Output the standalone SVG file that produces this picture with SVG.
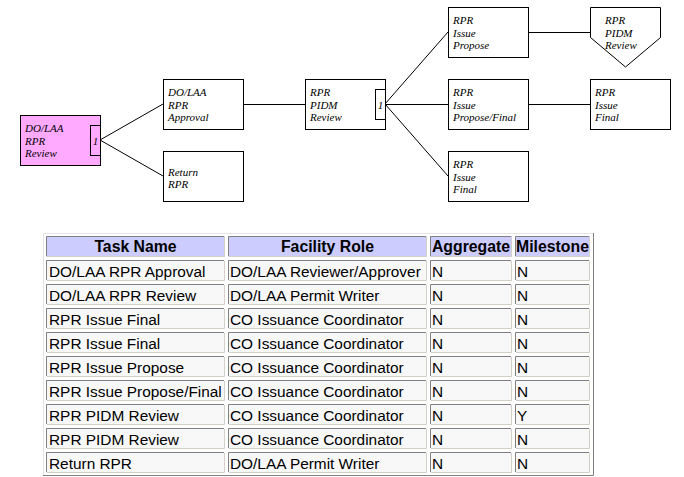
<svg xmlns="http://www.w3.org/2000/svg" width="684" height="477" viewBox="0 0 684 477">
<style>
.box{fill:#ffffff;stroke:#000;stroke-width:1}
.pink{fill:#ffaaff;stroke:#000;stroke-width:1}
.sub{fill:none;stroke:#000;stroke-width:1}
.lbl{font-family:"Liberation Serif","Times New Roman",serif;font-style:italic;font-size:11px;fill:#000}
.num{font-family:"Liberation Serif","Times New Roman",serif;font-style:italic;font-size:11px;fill:#000;text-anchor:middle}
.conn{stroke:#000;stroke-width:1;fill:none}
.dk{fill:none;stroke:#808080;stroke-width:1}
.lt{fill:none;stroke:#d4d0c8;stroke-width:1}
.th{font-family:"Liberation Sans",Arial,sans-serif;font-weight:bold;font-size:15.8px;fill:#000;text-anchor:middle}
.td{font-family:"Liberation Sans",Arial,sans-serif;font-size:15.4px;fill:#000}
</style>
<defs>
<g id="cells">
<rect x="46" y="0" width="179" height="21"/>
<rect x="228" y="0" width="199" height="21"/>
<rect x="430" y="0" width="82" height="21"/>
<rect x="515" y="0" width="75" height="21"/>
<path class="dk" d="M46.5,20V0.5H224M228.5,20V0.5H426M430.5,20V0.5H511M515.5,20V0.5H589"/>
<path class="lt" d="M47,20.5H224.5V1M229,20.5H426.5V1M431,20.5H511.5V1M516,20.5H589.5V1"/>
</g>
</defs>
<rect width="684" height="477" fill="#ffffff"/>

<g id="connectors">
<line class="conn" x1="100" y1="140" x2="163" y2="104"/>
<line class="conn" x1="100" y1="140" x2="163" y2="176"/>
<line class="conn" x1="243" y1="104.5" x2="305" y2="104.5"/>
<line class="conn" x1="385" y1="104" x2="448" y2="32"/>
<line class="conn" x1="385" y1="104.5" x2="448" y2="104.5"/>
<line class="conn" x1="385" y1="104" x2="448" y2="176"/>
<line class="conn" x1="528" y1="32.5" x2="590" y2="32.5"/>
<line class="conn" x1="528" y1="104.5" x2="590" y2="104.5"/>
</g>

<g id="node-dolaa-rpr-review">
<rect class="pink" x="20.5" y="115.5" width="80" height="50"/>
<rect class="sub" x="90.5" y="125.5" width="10" height="30"/>
<text class="lbl" x="25" y="132.2">DO/LAA</text>
<text class="lbl" x="25" y="144.5">RPR</text>
<text class="lbl" x="25" y="156.8">Review</text>
<text class="num" x="95.5" y="144.5">1</text>
</g>

<g id="node-dolaa-rpr-approval">
<rect class="box" x="163.5" y="79.5" width="80" height="50"/>
<text class="lbl" x="168" y="96.2">DO/LAA</text>
<text class="lbl" x="168" y="108.5">RPR</text>
<text class="lbl" x="168" y="120.8">Approval</text>
</g>

<g id="node-return-rpr">
<rect class="box" x="163.5" y="151.5" width="80" height="50"/>
<text class="lbl" x="168" y="175.5">Return</text>
<text class="lbl" x="168" y="187.8">RPR</text>
</g>

<g id="node-rpr-pidm-review">
<rect class="box" x="305.5" y="79.5" width="80" height="50"/>
<rect class="sub" x="375.5" y="89.5" width="10" height="30"/>
<text class="lbl" x="310" y="96.2">RPR</text>
<text class="lbl" x="310" y="108.5">PIDM</text>
<text class="lbl" x="310" y="120.8">Review</text>
<text class="num" x="380.5" y="108.5">1</text>
</g>

<g id="node-rpr-issue-propose">
<rect class="box" x="448.5" y="7.5" width="80" height="50"/>
<text class="lbl" x="453" y="24.2">RPR</text>
<text class="lbl" x="453" y="36.5">Issue</text>
<text class="lbl" x="453" y="48.8">Propose</text>
</g>

<g id="node-rpr-issue-propose-final">
<rect class="box" x="448.5" y="79.5" width="80" height="50"/>
<text class="lbl" x="453" y="96.2">RPR</text>
<text class="lbl" x="453" y="108.5">Issue</text>
<text class="lbl" x="453" y="120.8">Propose/Final</text>
</g>

<g id="node-rpr-issue-final-1">
<rect class="box" x="448.5" y="151.5" width="80" height="50"/>
<text class="lbl" x="453" y="168.2">RPR</text>
<text class="lbl" x="453" y="180.5">Issue</text>
<text class="lbl" x="453" y="192.8">Final</text>
</g>

<g id="node-rpr-pidm-review-milestone">
<polygon class="box" points="590.5,7.5 660.5,7.5 660.5,37.5 625.5,67 590.5,37.5"/>
<text class="lbl" x="605" y="24.2">RPR</text>
<text class="lbl" x="605" y="36.5">PIDM</text>
<text class="lbl" x="605" y="48.8">Review</text>
</g>

<g id="node-rpr-issue-final-2">
<rect class="box" x="590.5" y="79.5" width="80" height="50"/>
<text class="lbl" x="595" y="96.2">RPR</text>
<text class="lbl" x="595" y="108.5">Issue</text>
<text class="lbl" x="595" y="120.8">Final</text>
</g>

<g id="task-table">
<path fill="none" stroke="#e4e4e4" d="M43.5,475V233.5H593"/>
<path fill="none" stroke="#808080" d="M593.5,233V475.5H43"/>
<use href="#cells" y="236" fill="#ccccff"/>
<use href="#cells" y="260" fill="#f8f8f8"/>
<use href="#cells" y="284" fill="#f8f8f8"/>
<use href="#cells" y="308" fill="#f8f8f8"/>
<use href="#cells" y="332" fill="#f8f8f8"/>
<use href="#cells" y="356" fill="#f8f8f8"/>
<use href="#cells" y="380" fill="#f8f8f8"/>
<use href="#cells" y="404" fill="#f8f8f8"/>
<use href="#cells" y="428" fill="#f8f8f8"/>
<use href="#cells" y="452" fill="#f8f8f8"/>

<text class="th" x="135.5" y="252">Task Name</text>
<text class="th" x="327.5" y="252">Facility Role</text>
<text class="th" x="471" y="252">Aggregate</text>
<text class="th" x="552.5" y="252">Milestone</text>

<text class="td" x="49" y="277">DO/LAA RPR Approval</text>
<text class="td" x="230" y="277">DO/LAA Reviewer/Approver</text>
<text class="td" x="432" y="277">N</text>
<text class="td" x="517" y="277">N</text>

<text class="td" x="49" y="301">DO/LAA RPR Review</text>
<text class="td" x="230" y="301">DO/LAA Permit Writer</text>
<text class="td" x="432" y="301">N</text>
<text class="td" x="517" y="301">N</text>

<text class="td" x="49" y="325">RPR Issue Final</text>
<text class="td" x="230" y="325">CO Issuance Coordinator</text>
<text class="td" x="432" y="325">N</text>
<text class="td" x="517" y="325">N</text>

<text class="td" x="49" y="349">RPR Issue Final</text>
<text class="td" x="230" y="349">CO Issuance Coordinator</text>
<text class="td" x="432" y="349">N</text>
<text class="td" x="517" y="349">N</text>

<text class="td" x="49" y="373">RPR Issue Propose</text>
<text class="td" x="230" y="373">CO Issuance Coordinator</text>
<text class="td" x="432" y="373">N</text>
<text class="td" x="517" y="373">N</text>

<text class="td" x="49" y="397">RPR Issue Propose/Final</text>
<text class="td" x="230" y="397">CO Issuance Coordinator</text>
<text class="td" x="432" y="397">N</text>
<text class="td" x="517" y="397">N</text>

<text class="td" x="49" y="421">RPR PIDM Review</text>
<text class="td" x="230" y="421">CO Issuance Coordinator</text>
<text class="td" x="432" y="421">N</text>
<text class="td" x="517" y="421">Y</text>

<text class="td" x="49" y="445">RPR PIDM Review</text>
<text class="td" x="230" y="445">CO Issuance Coordinator</text>
<text class="td" x="432" y="445">N</text>
<text class="td" x="517" y="445">N</text>

<text class="td" x="49" y="469">Return RPR</text>
<text class="td" x="230" y="469">DO/LAA Permit Writer</text>
<text class="td" x="432" y="469">N</text>
<text class="td" x="517" y="469">N</text>
</g>
</svg>
